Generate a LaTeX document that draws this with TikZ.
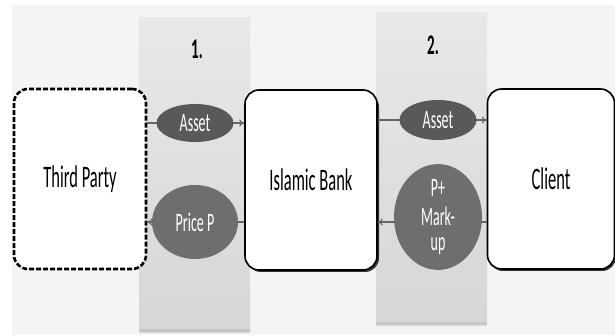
\documentclass[tikz,border=0pt]{standalone}
\usepackage{fontspec}
\setmainfont{Carlito}
\usetikzlibrary{shapes.geometric,arrows.meta}
\newcommand{\tall}[1]{\scalebox{1}[1.9]{#1}}
\begin{document}
\begin{tikzpicture}[x=1pt,y=-1pt,
  party/.style={draw=black, line width=1.6pt, rounded corners=14pt, fill=white,
    minimum width=#1, minimum height=180pt, inner sep=0pt, font=\fontsize{16.5}{18}\selectfont},
  token/.style={ellipse, fill=black!65, text=white, inner sep=0pt, font=\fontsize{14}{16}\selectfont, align=center},
  flow/.style={draw=black!60, line width=1.1pt, -{To[length=5pt,width=7pt]}},
  stepnum/.style={font=\bfseries\fontsize{15}{17}\selectfont}]
  \useasboundingbox (0,0) rectangle (615,336);
  % page background
  \fill[white] (0,0) rectangle (615,336);
  \fill[gray!9] (12,5) rectangle (615,335);
  % the two transaction stages
  \shade[top color=gray!18, bottom color=gray!32] (139,18) rectangle (250,332);
  \fill[gray!45] (139,329) rectangle (250,332);
  \shade[top color=gray!18, bottom color=gray!32] (376,13) rectangle (487,325);
  \fill[gray!45] (376,322) rectangle (487,325);
  \node[stepnum] (s1) at (197,49) {\tall{1.}};
  \node[stepnum] (s2) at (433,45) {\tall{2.}};
  % parties, the solid ones with a small drop shadow
  \fill[black!80, rounded corners=14pt] (247,93) rectangle (379,272);
  \fill[black!80, rounded corners=14pt] (489,92) rectangle (616,271);
  \node[party=132pt, line width=2.6pt, dash pattern=on 5pt off 2pt] (tp) at (80,179) {\tall{Third Party}};
  \node[party=132pt] (ib) at (311,180) {\tall{Islamic Bank}};
  \node[party=127pt] (cl) at (551,179) {\tall{Client}};
  % flow lines first, the tokens are drawn over them
  \coordinate (ya1) at (0,123);
  \coordinate (yp1) at (0,222);
  \coordinate (ya2) at (0,120);
  \coordinate (yp2) at (0,222);
  \draw[flow] (tp.east |- ya1) -- (ib.west |- ya1);
  \draw[flow] (ib.west |- yp1) -- (tp.east |- yp1);
  \draw[flow] (ib.east |- ya2) -- (cl.west |- ya2);
  \draw[flow] (cl.west |- yp2) -- (ib.east |- yp2);
  \node[token, minimum width=77pt, minimum height=38pt] (a1) at (195,123) {\tall{Asset}};
  \node[token, fill=black!57, minimum width=86pt, minimum height=74pt] (p1) at (195,222) {\tall{Price P}};
  \node[token, minimum width=77pt, minimum height=40pt] (a2) at (438,120) {\tall{Asset}};
  \node[token, fill=black!57, minimum width=88pt, minimum height=103pt] (p2) at (438,217)
    {\tall{P+}\\[9pt]\tall{Mark-}\\[9pt]\tall{up}};
\end{tikzpicture}
\end{document}
